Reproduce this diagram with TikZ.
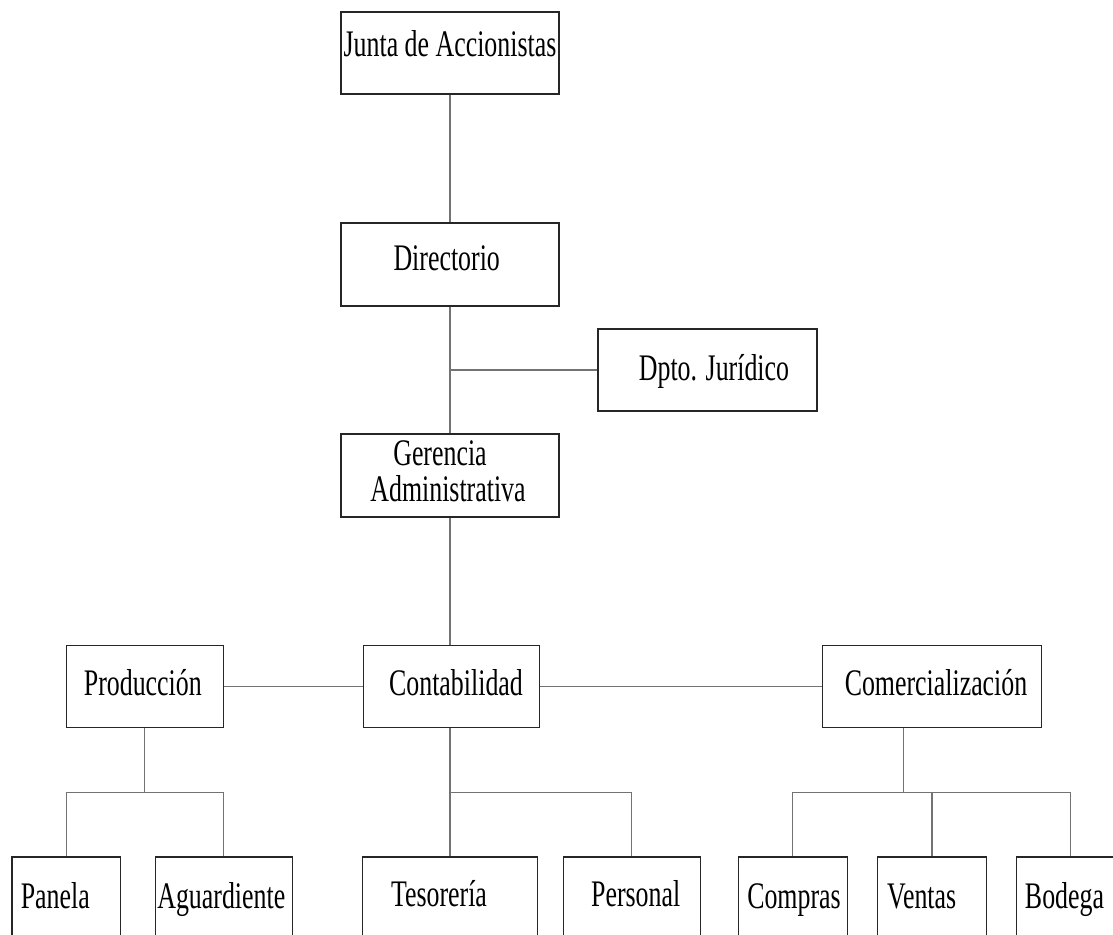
\documentclass[tikz,border=0pt]{standalone}
\usepackage{fontspec}
\setmainfont[FakeStretch=0.69]{Liberation Serif}
\usetikzlibrary{calc}
\begin{document}
\begin{tikzpicture}[x=1pt,y=-1pt,
  box/.style={draw=black!85, line width=1.1pt, inner sep=0pt, minimum height=82pt},
  txt/.style={anchor=base, inner sep=0pt, font=\fontsize{37.5}{36.7}\selectfont},
  link/.style={draw=black!55, line width=1.1pt}]
\useasboundingbox (0,0) rectangle (1113,934);
\clip (0,0) rectangle (1113,934);
% boxes
\node[box, minimum width=218pt] (jun) at (450,53) {};
\node[box, minimum width=218pt, minimum height=83pt] (dir) at (450,264.5) {};
\node[box, minimum width=219pt] (jur) at (707.5,370) {};
\node[box, minimum width=218pt, minimum height=83pt] (ger) at (450,475.5) {};
\node[box, minimum width=156.7pt] (pro) at (144.7,686.7) {};
\node[box, minimum width=175.7pt] (con) at (451.2,686.7) {};
\node[box, minimum width=218.3pt] (com) at (931.9,686.7) {};
\node[box, minimum width=108.7pt, minimum height=83pt] (pan) at (66.3,898.5) {};
\node[box, minimum width=136.7pt, minimum height=83pt] (agu) at (223.7,898.5) {};
\node[box, minimum width=175.4pt, minimum height=83pt] (tes) at (450,898.5) {};
\node[box, minimum width=136.7pt, minimum height=83pt] (per) at (631.7,898.5) {};
\node[box, minimum width=109pt, minimum height=83pt] (cmp) at (792.8,898.5) {};
\node[box, minimum width=109.4pt, minimum height=83pt] (ven) at (932,898.5) {};
\node[box, minimum width=108pt, minimum height=83pt] (bod) at (1070.8,898.5) {};
% texts
\node[txt] (tjun) at (450,56.7) {Junta de Accionistas};
\node[txt] (tdir) at (446.7,270) {Directorio};
\node[txt] (tjur) at (714,380.7) {Dpto. Jurídico};
\node[txt] (tger1) at (440,465) {Gerencia};
\node[txt] (tger2) at (448,501.7) {Administrativa};
\node[txt] (tpro) at (142.8,695.7) {Producción};
\node[txt] (tcon) at (456,695.7) {Contabilidad};
\node[txt] (tcom) at (936,695.7) {Comercialización};
\node[txt] (tpan) at (55.3,908.3) {Panela};
\node[txt] (tagu) at (221.3,908.3) {Aguardiente};
\node[txt] (ttes) at (439,906.7) {Tesorería};
\node[txt] (tper) at (635.7,906.7) {Personal};
\node[txt] (tcmp) at (794,908.3) {Compras};
\node[txt] (tven) at (921.7,908.3) {Ventas};
\node[txt] (tbod) at (1064.5,908.3) {Bodega};
% junction points
\coordinate (jj) at (450,370);
\coordinate (pb) at (144.5,792.7);
\coordinate (cb) at (450,792.7);
\coordinate (mb) at (903.5,792.7);
% connectors
\draw[link] (jun.south) -- (dir.north);
\draw[link] (dir.south) -- (ger.north);
\draw[link] (jj) -- (jur.west);
\draw[link] (ger.south) -- (ger.south |- con.north);
\draw[link] (pro.east) -- (con.west);
\draw[link] (con.east) -- (com.west);
\draw[link] (pb |- pro.south) -- (pb);
\draw[link] (pan.north) -- (pan.north |- pb) -- (agu.north |- pb) -- (agu.north);
\draw[link] (cb |- con.south) -- (cb);
\draw[link] (cb) -- (tes.north);
\draw[link] (cb) -| (per.north);
\draw[link] (mb |- com.south) -- (mb);
\draw[link] (cmp.north) -- (cmp.north |- mb) -- (bod.north |- mb) -- (bod.north);
\draw[link] (ven.north |- mb) -- (ven.north);
\end{tikzpicture}
\end{document}
